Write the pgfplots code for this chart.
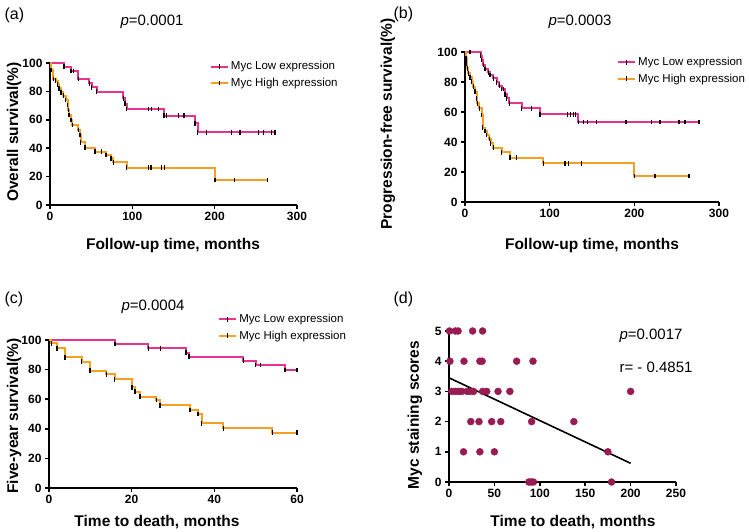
\documentclass[border=0pt]{standalone}
\usepackage{fontspec}
\setmainfont{Liberation Sans}
\usepackage{pgfplots}
\usepackage{pgfplotstable}
\pgfplotsset{compat=1.18}
\definecolor{kmpink}{RGB}{232,52,142}
\definecolor{kmorange}{RGB}{245,160,35}
\definecolor{dotc}{RGB}{153,27,84}
\pgfplotstableread{
t s
0 100
17 97.4
25.5 94.5
28.3 94.5
34.4 88.7
47.8 85.7
50.6 82.9
56.7 79.8
89 75
91 71.3
93 67.6
119.4 67.6
123.5 67.6
131.5 67.6
138.5 62.9
141.7 62.9
155.9 62.9
162.8 62.9
176 57.5
179.3 51.2
190.4 51.2
220.8 51.2
230.8 51.2
253 51.2
259 51.2
269.3 51.2
273.4 51.2
}\aLow
\pgfplotstableread{
t s
0 100
1 95
4 88.7
6.9 87.5
9.3 85
11 82.2
13.4 79.4
16.2 77
19 73.9
21.5 70.4
22.3 66.9
23 63.4
25.5 59.9
27 56.3
34.4 52.8
36.4 49.3
37.2 44.1
42.5 40.4
54.7 37.5
62.8 37.5
68 35.2
74 32.9
76.9 30
93.1 26.3
119.4 26.3
122.7 26.3
135.7 26.3
138.8 26.3
200.5 17.6
223.9 17.6
264.4 17.6
}\aHigh
\pgfplotstableread{
t s
0 100
5.9 100
18.5 97.5
19.7 94.7
21.7 91.3
23.6 88.7
27.5 86.4
29.5 84.7
33.4 82.4
37.4 79.8
40.5 77.6
43.3 75.3
45.3 75.3
47.2 71.8
49.2 69.1
52.3 65.8
66.9 62.5
78.7 62.5
88.5 58.5
120.8 58.5
124.8 58.5
127.9 58.5
130.7 58.5
133.8 53.3
139.7 53.3
144.4 53.3
155.5 53.3
190.1 53.3
220.4 53.3
230.3 53.3
252.8 53.3
259.8 53.3
276.4 53.3
}\bLow
\pgfplotstableread{
t s
0 100
1.2 95.8
2 92.5
2.7 89.1
3.9 85.8
5.9 83.1
7.9 80.2
9.8 76.9
11.8 73.6
13.8 69.1
14.6 65.8
16.9 62.5
19.7 58
20.9 49.6
23.6 47.3
25.6 44.7
28.7 42
30.3 39.1
33.4 36.2
43.3 33.1
53.1 29.5
61 29.5
92.4 25.8
118.1 25.8
122 25.8
137.8 25.8
200 17.3
224.3 17.3
264.5 17.3
}\bHigh
\pgfplotstableread{
t s
0 100
16 97.3
24 94.4
27 94.4
33.1 91.4
33.9 88.7
47 86
50 83.1
51.1 83.1
57.1 79.7
60 79.7
}\cLow
\pgfplotstableread{
t s
0 100
0.6 97.7
1.9 94.4
3.9 88.3
7.9 85.4
9.9 79.3
13.9 76.8
15.9 73.4
20.1 68
20.8 65.1
22 61.7
26 59.5
26.9 55.9
34.1 52.7
36 50
36.9 43.7
42.2 40.3
54 37.4
60 37.4
}\cHigh
\pgfplotsset{
  myaxis/.style={
    scale only axis, axis lines=left,
    axis line style={line width=1.7pt,-},
    every tick/.style={line width=1.5pt,black},
    tick align=outside, major tick length=4pt,
    ticklabel style={font=\bfseries\fontsize{12}{14}\selectfont},
    /pgf/number format/assume math mode=true,
    clip=false,
    legend style={draw=none,fill=none,font=\fontsize{11.5}{14}\selectfont,inner sep=0pt,row sep=2.5pt,anchor=north west},
    legend cell align=left,
  },
  kmline/.style={const plot, line width=2pt, mark=none, forget plot},
  kmmark/.style={only marks, mark=|, mark phase=2, mark size=2.3pt,
    mark options={black,line width=1.4pt,solid}, forget plot},
  kmleg/.style={legend image code/.code={
      \draw[line width=2pt,##1] (0pt,0pt) -- (17pt,0pt);
      \draw[black,line width=1.4pt] (8.5pt,-2.3pt) -- (8.5pt,2.3pt);}},
}
\begin{document}
\begin{tikzpicture}[x=1pt,y=1pt]
\useasboundingbox (0,0) rectangle (749,532);
% ---------------- (a)
\begin{axis}[myaxis, at={(50pt,327pt)}, anchor=south west, width=247pt, height=142pt,
  xmin=0, xmax=300, ymin=0, ymax=100, xtick={0,100,200,300}, ytick={0,20,40,60,80,100},
  legend style={at={(axis cs:194,102.5)}}]
\addplot[kmline, color=kmpink] table {\aLow};
\addplot[kmline, color=kmorange] table {\aHigh};
\addplot[kmmark] table {\aLow};
\addplot[kmmark] table {\aHigh};
\addlegendimage{kmleg, color=kmpink}\addlegendentry{Myc Low expression}
\addlegendimage{kmleg, color=kmorange}\addlegendentry{Myc High expression}
\end{axis}
% ---------------- (b)
\begin{axis}[myaxis, at={(465pt,330pt)}, anchor=south west, width=254pt, height=150pt,
  xmin=0, xmax=300, ymin=0, ymax=100, xtick={0,100,200,300}, ytick={0,20,40,60,80,100},
  legend style={at={(axis cs:179.5,97.8)}}]
\addplot[kmline, color=kmpink] table {\bLow};
\addplot[kmline, color=kmorange] table {\bHigh};
\addplot[kmmark] table {\bLow};
\addplot[kmmark] table {\bHigh};
\addlegendimage{kmleg, color=kmpink}\addlegendentry{Myc Low expression}
\addlegendimage{kmleg, color=kmorange}\addlegendentry{Myc High expression}
\end{axis}
% ---------------- (c)
\begin{axis}[myaxis, at={(49pt,44pt)}, anchor=south west, width=248pt, height=148pt,
  xmin=0, xmax=60, ymin=0, ymax=100, xtick={0,20,40,60}, ytick={0,20,40,60,80,100},
  legend style={at={(axis cs:40.9,118.7)}}]
\addplot[kmline, color=kmpink] table {\cLow};
\addplot[kmline, color=kmorange] table {\cHigh};
\addplot[kmmark] table {\cLow};
\addplot[kmmark] table {\cHigh};
\addlegendimage{kmleg, color=kmpink}\addlegendentry{Myc Low expression}
\addlegendimage{kmleg, color=kmorange}\addlegendentry{Myc High expression}
\end{axis}
% ---------------- (d)
\begin{axis}[myaxis, at={(449pt,50pt)}, anchor=south west, width=227pt, height=151pt,
  xmin=0, xmax=250, ymin=0, ymax=5, xtick={0,50,100,150,200,250}, ytick={0,1,2,3,4,5}]
\addplot[only marks, mark=*, mark size=3.5pt, color=dotc, mark options={draw=dotc,fill=dotc}] coordinates {
(0.5,5) (7,5) (10,5) (26,5) (37,5)
(1,4) (16.5,4) (34,4) (36.5,4) (74.5,4) (92.5,4)
(3,3) (7,3) (10.5,3) (14,3) (20,3) (23,3) (27,3) (37,3) (41.5,3) (54,3) (67,3) (200,3)
(24,2) (33,2) (47,2) (57,2) (91,2) (137.5,2)
(16,1) (34,1) (50,1) (175,1)
(88,0) (90.5,0) (93,0) (179,0)};
\addplot[black, line width=1.6pt] coordinates {(0,3.45) (200,0.62)};
\end{axis}
% ---------------- texts
\node[anchor=west, font=\fontsize{16}{18}\selectfont] at (1,517) {(a)};
\node[anchor=west, font=\fontsize{16}{18}\selectfont] at (390,518) {(b)};
\node[anchor=west, font=\fontsize{16}{18}\selectfont] at (1,233) {(c)};
\node[anchor=west, font=\fontsize{16}{18}\selectfont] at (390,233) {(d)};
\node[font=\fontsize{15}{18}\selectfont] at (152,510) {\textit{p}=0.0001};
\node[font=\fontsize{15}{18}\selectfont] at (580,510) {\textit{p}=0.0003};
\node[font=\fontsize{15}{18}\selectfont] at (153,225) {\textit{p}=0.0004};
\node[anchor=west, font=\fontsize{15}{18}\selectfont] at (616,196) {\textit{p}=0.0017};
\node[anchor=west, font=\fontsize{15}{18}\selectfont] at (616,165) {r= - 0.4851};
\node[anchor=base, font=\bfseries\fontsize{15.5}{18}\selectfont] at (173,282) {Follow-up time, months};
\node[anchor=base, font=\bfseries\fontsize{15.5}{18}\selectfont] at (592,282) {Follow-up time, months};
\node[anchor=base, font=\bfseries\fontsize{15.5}{18}\selectfont] at (157,5) {Time to death, months};
\node[anchor=base, font=\bfseries\fontsize{15.5}{18}\selectfont] at (573,5) {Time to death, months};
\node[rotate=90, font=\bfseries\fontsize{15.5}{18}\selectfont] at (14,400) {Overall survival(\%)};
\node[rotate=90, font=\bfseries\fontsize{15.5}{18}\selectfont] at (388,408) {Progression-free survival(\%)};
\node[rotate=90, font=\bfseries\fontsize{15.5}{18}\selectfont] at (14,116) {Five-year survival(\%)};
\node[rotate=90, font=\bfseries\fontsize{15.5}{18}\selectfont] at (415,117) {Myc staining scores};
\end{tikzpicture}
\end{document}
